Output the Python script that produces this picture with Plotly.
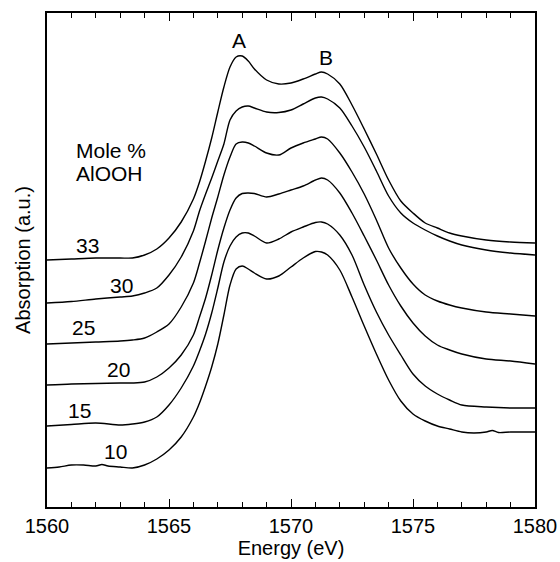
import plotly.graph_objects as go

# Energy grids (eV) and absorption (a.u.) for each AlOOH content (mole %)
energy_std = [1560, 1561, 1562, 1563, 1563.5, 1564, 1564.5, 1565, 1565.5, 1566,
              1566.25, 1566.5, 1566.75, 1567, 1567.25, 1567.5, 1567.75, 1568,
              1568.25, 1568.5, 1569, 1569.5, 1570, 1570.5, 1571, 1571.25, 1571.5,
              1572, 1572.5, 1573, 1573.5, 1574, 1574.5, 1575, 1575.5, 1576,
              1576.5, 1577, 1578, 1579, 1580]

abs_33 = [2.47, 2.48, 2.49, 2.49, 2.49, 2.52, 2.58, 2.69, 2.85, 3.08,
          3.25, 3.46, 3.69, 3.95, 4.20, 4.40, 4.50, 4.51,
          4.46, 4.38, 4.27, 4.23, 4.24, 4.28, 4.33, 4.35, 4.33,
          4.23, 4.02, 3.78, 3.53, 3.27, 3.06, 2.94, 2.84, 2.79,
          2.74, 2.71, 2.67, 2.65, 2.64]

abs_30 = [2.04, 2.055, 2.08, 2.10, 2.11, 2.14, 2.19, 2.32, 2.50, 2.76,
          2.96, 3.13, 3.29, 3.46, 3.63, 3.87, 3.96, 4.00,
          4.01, 3.99, 3.95, 3.945, 3.97, 4.03, 4.09, 4.10, 4.08,
          3.99, 3.81, 3.60, 3.36, 3.11, 2.94, 2.84, 2.77, 2.71,
          2.66, 2.62, 2.57, 2.54, 2.52]

abs_25 = [1.63, 1.64, 1.65, 1.66, 1.67, 1.69, 1.75, 1.83, 2.00, 2.24,
          2.44, 2.66, 2.89, 3.10, 3.32, 3.50, 3.63, 3.65,
          3.64, 3.61, 3.54, 3.52, 3.59, 3.64, 3.68, 3.70, 3.68,
          3.54, 3.35, 3.13, 2.87, 2.59, 2.39, 2.23, 2.12, 2.06,
          2.02, 1.99, 1.95, 1.93, 1.91]

abs_20 = [1.22, 1.23, 1.235, 1.24, 1.24, 1.25, 1.30, 1.39, 1.52, 1.72,
          1.90, 2.09, 2.32, 2.57, 2.79, 2.97, 3.09, 3.135,
          3.14, 3.135, 3.10, 3.13, 3.17, 3.21, 3.27, 3.29, 3.27,
          3.14, 2.94, 2.71, 2.47, 2.22, 2.01, 1.84, 1.71, 1.62,
          1.57, 1.53, 1.48, 1.46, 1.43]

abs_15 = [0.81, 0.825, 0.84, 0.82, 0.83, 0.85, 0.90, 1.02, 1.19, 1.41,
          1.56, 1.73, 1.94, 2.19, 2.45, 2.61, 2.70, 2.74,
          2.74, 2.71, 2.64, 2.68, 2.75, 2.80, 2.845, 2.85, 2.83,
          2.72, 2.52, 2.22, 1.95, 1.72, 1.52, 1.33, 1.21, 1.13,
          1.07, 1.02, 1.00, 0.99, 0.99]

energy_10 = [1560, 1560.5, 1561, 1561.5, 1562, 1562.25, 1562.5, 1563, 1563.5,
             1564, 1564.5, 1565, 1565.5, 1566, 1566.25, 1566.5, 1566.75, 1567,
             1567.25, 1567.5, 1567.75, 1568, 1568.25, 1568.5, 1569, 1569.5,
             1570, 1570.5, 1571, 1571.25, 1571.5, 1572, 1572.5, 1573, 1573.5,
             1574, 1574.5, 1575, 1575.5, 1576, 1576.5, 1577, 1577.5, 1578,
             1578.25, 1578.5, 1579, 1580]
abs_10 = [0.39, 0.40, 0.42, 0.42, 0.41, 0.425, 0.41, 0.40, 0.39,
          0.42, 0.48, 0.57, 0.70, 0.90, 1.04, 1.21, 1.40, 1.63,
          1.92, 2.22, 2.38, 2.41, 2.38, 2.34, 2.28, 2.31,
          2.40, 2.49, 2.555, 2.55, 2.52, 2.37, 2.10, 1.81, 1.53,
          1.27, 1.06, 0.93, 0.86, 0.81, 0.78, 0.75, 0.74, 0.75,
          0.765, 0.745, 0.75, 0.75]

series = [
    ("33", energy_std, abs_33),
    ("30", energy_std, abs_30),
    ("25", energy_std, abs_25),
    ("20", energy_std, abs_20),
    ("15", energy_std, abs_15),
    ("10", energy_10, abs_10),
]

# curve labels (mole % AlOOH) and where they sit (energy, absorption)
curve_labels = ["33", "30", "25", "20", "15", "10"]
label_energy = [1561.65, 1563.07, 1561.48, 1562.91, 1561.35, 1562.79]
label_abs = [2.62, 2.22, 1.80, 1.38, 0.97, 0.56]

FONT = "Liberation Sans, Arial, Helvetica, sans-serif"
TXT = dict(size=21, color="black", family=FONT)

fig = go.Figure()
for name, ex, ay in series:
    fig.add_trace(go.Scatter(x=ex, y=ay, mode="lines", name=name,
                             line=dict(color="black", width=1.4, shape="spline", smoothing=0.8),
                             showlegend=False, hoverinfo="skip"))

annotations = []
for t, ex, ay in zip(curve_labels, label_energy, label_abs):
    annotations.append(dict(x=ex, y=ay, text=t, showarrow=False, font=TXT))
annotations += [
    dict(x=1562.62, y=3.57, text="Mole %", showarrow=False, font=TXT),
    dict(x=1562.58, y=3.34, text="AlOOH", showarrow=False, font=TXT),
    dict(x=1567.87, y=4.67, text="A", showarrow=False, font=TXT),
    dict(x=1571.43, y=4.50, text="B", showarrow=False, font=TXT),
]

fig.update_layout(
    width=560, height=562,
    margin=dict(l=47, r=25, t=13, b=55, autoexpand=False),
    paper_bgcolor="white", plot_bgcolor="white",
    font=dict(family=FONT, size=20, color="black"),
    annotations=annotations,
    xaxis=dict(range=[1560, 1580], tickvals=[1560, 1565, 1570, 1575, 1580],
               ticks="inside", ticklen=8, tickwidth=1.2, tickcolor="black",
               minor=dict(dtick=1, ticks="inside", ticklen=5, tickwidth=1, tickcolor="black"),
               showline=True, linecolor="black", linewidth=1.5, mirror="ticks",
               showgrid=False, zeroline=False,
               tickfont=dict(size=20, family=FONT, color="black"),
               title=dict(text="Energy (eV)", font=dict(size=20, family=FONT, color="black"), standoff=4)),
    yaxis=dict(range=[0, 4.94], showticklabels=False, ticks="",
               showline=True, linecolor="black", linewidth=1.5, mirror=True,
               showgrid=False, zeroline=False,
               title=dict(text="Absorption (a.u.)", font=dict(size=20, family=FONT, color="black"), standoff=9)),
)

fig.write_html("out.html", config={"displayModeBar": False},
               post_script="document.body.style.margin='0';")
